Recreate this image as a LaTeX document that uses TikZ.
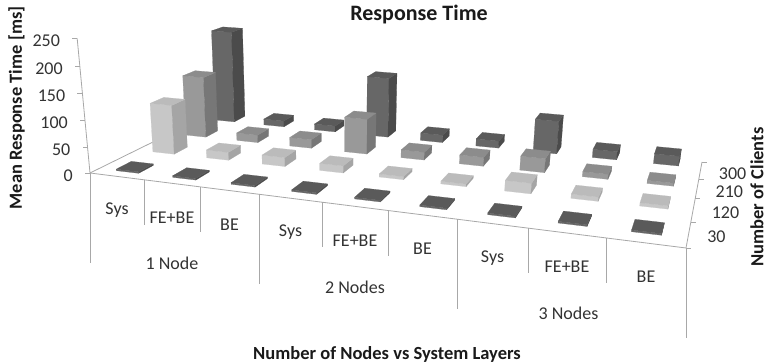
\documentclass[tikz,border=0pt]{standalone}
\usepackage{fontspec}
\setmainfont{Carlito}
\definecolor{axisgray}{HTML}{A8A8A8}
\definecolor{txt}{HTML}{333333}
\definecolor{ttlc}{HTML}{1A1A1A}
\definecolor{dF}{HTML}{676767}
\definecolor{dS}{HTML}{4B4B4B}
\definecolor{dT}{HTML}{5A5A5A}
\definecolor{lF}{HTML}{C7C7C7}
\definecolor{lS}{HTML}{A5A5A5}
\definecolor{lT}{HTML}{BBBBBB}
\definecolor{mF}{HTML}{999999}
\definecolor{mS}{HTML}{777777}
\definecolor{mT}{HTML}{8C8C8C}
% perspective projection of (u,v,h) -> picture coordinates (pixels, y downwards)
\newcommand{\prjpt}[4]{%
  \pgfmathsetmacro{\prjw}{1-0.01766*(#1)+0.06128*(#2)-0.0001667*(#3)}%
  \pgfmathsetmacro{\prjx}{(87.68+54.08*(#1)+46.45*(#2)-0.05556*(#3))/\prjw}%
  \pgfmathsetmacro{\prjy}{(174.75+3.638*(#1)-9.799*(#2)-0.538*(#3))/\prjw}%
  \coordinate (#4) at (\prjx,\prjy);%
}
\newcommand{\drawbox}[4]{% i j h colour-prefix
  \pgfmathsetmacro{\bxua}{#1+0.3}\pgfmathsetmacro{\bxub}{#1+0.7}%
  \pgfmathsetmacro{\bxva}{#2+0.3}\pgfmathsetmacro{\bxvb}{#2+0.7}%
  \prjpt{\bxua}{\bxva}{0}{bA}\prjpt{\bxub}{\bxva}{0}{bB}\prjpt{\bxub}{\bxvb}{0}{bC}%
  \prjpt{\bxua}{\bxva}{#3}{tA}\prjpt{\bxub}{\bxva}{#3}{tB}\prjpt{\bxub}{\bxvb}{#3}{tC}\prjpt{\bxua}{\bxvb}{#3}{tD}%
  \filldraw[fill=#4F,draw=#4F,line width=0.2pt,line join=round] (bA) -- (bB) -- (tB) -- (tA) -- cycle;%
  \filldraw[fill=#4S,draw=#4S,line width=0.2pt,line join=round] (bB) -- (bC) -- (tC) -- (tB) -- cycle;%
  \filldraw[fill=#4T,draw=#4T,line width=0.2pt,line join=round] (tA) -- (tB) -- (tC) -- (tD) -- cycle;%
}
\tikzset{
  axl/.style={draw=axisgray,line width=0.8pt},
  lbl/.style={font=\fontsize{18}{20}\selectfont,text=txt,inner sep=0pt},
  ttl/.style={font=\bfseries\fontsize{18.5}{21}\selectfont,text=ttlc,inner sep=0pt},
}
\begin{document}
\begin{tikzpicture}[x=1pt,y=-1pt]
\useasboundingbox (0,0) rectangle (767,363);
\fill[white] (0,0) rectangle (767,363);
% floor edges
\coordinate (f0) at (90,173);
\coordinate (f1) at (686,248);
\coordinate (fb) at (220,109);
\draw[axl] (f0) -- (f1);
\draw[axl] (f0) -- (fb);
% category dividers
\foreach \x/\L [count=\k] in {90/90,144/45,200/45,259/90,322/45,388/45,457/90,528/45,606/45,686/90} {
  \pgfmathsetmacro{\ty}{173+0.12584*(\x-90)}
  \coordinate (dt\k) at (\x,\ty);
  \coordinate (db\k) at (\x,\ty+\L);
  \draw[axl] (dt\k) -- (db\k);
}
% value axis
\foreach \h [count=\k] in {0,50,...,250} {
  \pgfmathsetmacro{\vw}{1-0.0001585*\h}
  \pgfmathsetmacro{\vx}{(90-0.06305*\h)/\vw}
  \pgfmathsetmacro{\vy}{(173-0.5441*\h)/\vw}
  \coordinate (vt\k) at (\vx,\vy);
  \coordinate (vk\k) at (\vx-5,\vy);
  \draw[axl] (vt\k) -- (vk\k);
  \node[lbl,anchor=east] (vl\k) at (\vx-17,\vy+2.5) {\h};
}
\draw[axl] (vt1) -- (vt6);
% depth axis
\coordinate (ra0) at (686,248);
\coordinate (ra4) at (702,162);
\draw[axl] (ra0) -- (ra4);
\foreach \yy [count=\k] in {248,222,198,179,162} {
  \pgfmathsetmacro{\rx}{686+(248-\yy)*16/86}
  \coordinate (rt\k) at (\rx,\yy);
  \coordinate (rk\k) at (\rx+5,\yy);
  \draw[axl] (rt\k) -- (rk\k);
}
\foreach \yy/\t [count=\k] in {237/30,212.5/120,192/210,174/300} {
  \pgfmathsetmacro{\rx}{686+(248-\yy)*16/86+19}
  \node[lbl,anchor=west] (dl\k) at (\rx,\yy) {\t};
}
% bars, back row first
\foreach \i/\h in {0/200,1/13,2/13,3/127,4/16,5/15,6/68,7/17,8/20} {\drawbox{\i}{3}{\h}{d}}
\foreach \i/\h in {0/128,1/16,2/18,3/72,4/16,5/18,6/28,7/10,8/6} {\drawbox{\i}{2}{\h}{m}}
\foreach \i/\h in {0/100,1/16,2/18,3/14,4/6,5/5,6/20,7/8,8/6} {\drawbox{\i}{1}{\h}{l}}
\foreach \i/\h in {0/3,1/3,2/3,3/3,4/3,5/3,6/3,7/3,8/3} {\drawbox{\i}{0}{\h}{d}}
% category labels
\foreach \xa/\xb/\t [count=\k] in {90/144/Sys,144/200/FE+BE,200/259/BE,259/322/Sys,322/388/FE+BE,388/457/BE,457/528/Sys,528/606/FE+BE,606/686/BE} {
  \pgfmathsetmacro{\mx}{(\xa+\xb)/2}
  \pgfmathsetmacro{\my}{173+0.12584*(\mx-90)+34}
  \node[lbl] (cat\k) at (\mx,\my) {\t};
}
\node[lbl] (g1) at (172,263.5) {1 Node};
\node[lbl] (g2) at (355,287) {2 Nodes};
\node[lbl] (g3) at (568.5,313) {3 Nodes};
% titles
\node[font=\bfseries\fontsize{22}{24}\selectfont,text=ttlc,inner sep=0pt] (title) at (419,15) {Response Time};
\node[ttl] (xt) at (387,354) {Number of Nodes vs System Layers};
\node[ttl,rotate=90] (yt) at (16.5,108) {Mean Response Time [ms]};
\node[ttl,rotate=90] (zt) at (757,197) {Number of Clients};
\end{tikzpicture}
\end{document}
